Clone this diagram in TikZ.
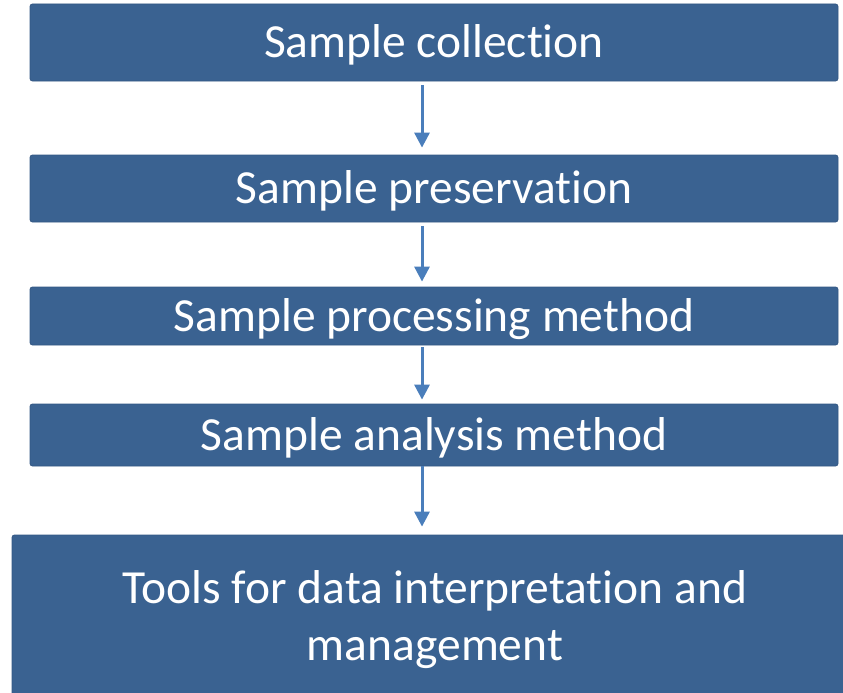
\documentclass[tikz,border=0pt]{standalone}
\usepackage{fontspec}
\setmainfont{Carlito}[Ligatures={NoCommon}]
\usetikzlibrary{arrows.meta}
\definecolor{boxfill}{RGB}{58,98,145}
\definecolor{boxline}{RGB}{52,88,132}
\definecolor{arrowblue}{RGB}{74,126,187}
\tikzset{
  stage/.style={draw=boxline, line width=0.8pt, fill=boxfill, rounded corners=2.5pt,
    text=white, font=\fontsize{47.5}{57}\selectfont, align=center, inner sep=0pt},
  oneline/.style={stage, text height=30.6pt, text depth=0pt},
  flow/.style={draw=arrowblue, line width=3pt,
    -{Triangle[width=15pt,length=15pt]}}
}
\begin{document}
\begin{tikzpicture}[x=1pt, y=-1pt]
  \useasboundingbox (0,0) rectangle (843,693);
  % process stages, top to bottom
  \node[oneline, minimum width=808pt, minimum height=77pt] (collect) at (434,42.5) {Sample collection};
  \node[oneline, minimum width=808pt, minimum height=67pt] (preserve) at (434,188.5) {Sample preservation};
  \node[oneline, minimum width=808pt, minimum height=58pt] (process) at (434,316) {Sample processing method};
  \node[oneline, minimum width=808pt, minimum height=62pt] (analyse) at (434,435) {Sample analysis method};
  \node[stage, minimum width=846pt, minimum height=170pt] (tools) at (435,620)
    {Tools for data interpretation and\\management};
  % connecting arrows
  \draw[flow, shorten <=4pt, shorten >=7pt] ([xshift=-12pt]collect.south) -- ([xshift=-12pt]preserve.north);
  \draw[flow, shorten <=4pt, shorten >=5pt] ([xshift=-12pt]preserve.south) -- ([xshift=-12pt]process.north);
  \draw[flow, shorten <=2pt, shorten >=4pt] ([xshift=-12pt]process.south) -- ([xshift=-12pt]analyse.north);
  \draw[flow, shorten <=0pt, shorten >=8pt] ([xshift=-12pt]analyse.south) -- ([xshift=-13pt]tools.north);
\end{tikzpicture}
\end{document}
